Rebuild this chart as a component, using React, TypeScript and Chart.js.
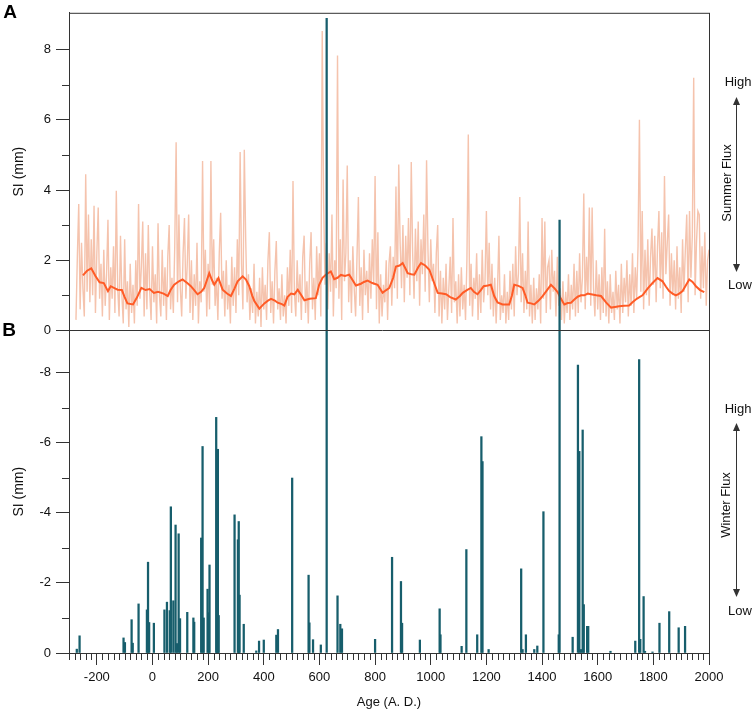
import React, { useEffect, useRef } from 'react';
import { Chart, registerables } from 'chart.js';

Chart.register(...registerables);

const FONT = '"Liberation Sans", Arial, Helvetica, sans-serif';

// Panel A: summer SI (mm), one value every 5 years from 275 BC
const summerStart = -275;
const summerStep = 5;
const summerSI = [
  0.3, 2.1, 3.6, 0.6, 2.5, 1.2, 0.4, 4.45, 1.1, 3.3,
  0.8, 2.6, 1.0, 3.55, 0.5, 2.2, 3.5, 0.9, 1.9, 0.4,
  2.3, 0.7, 1.6, 3.15, 0.3, 1.8, 0.9, 2.4, 0.5, 3.98,
  1.2, 0.4, 2.7, 1.0, 0.2, 2.6, 0.6, 1.4, 0.1, 1.9,
  0.5, 1.3, 0.2, 2.0, 0.7, 3.6, 0.9, 1.8, 3.1, 0.4,
  2.2, 0.6, 3.0, 1.1, 0.3, 2.4, 0.8, 1.6, 0.2, 3.05,
  1.0, 0.4, 2.3, 0.7, 1.8, 0.3, 2.1, 3.0, 0.6, 1.5,
  0.5, 2.4, 5.36, 0.8, 3.3, 1.2, 0.4, 2.2, 3.2, 0.9,
  1.9, 3.3, 0.5, 2.0, 0.3, 1.6, 0.7, 2.5, 0.2, 1.4,
  0.8, 4.83, 1.1, 2.3, 0.4, 1.9, 0.6, 4.83, 1.3, 2.6,
  0.7, 1.5, 0.3, 2.2, 3.35, 0.9, 1.7, 0.4, 2.0, 0.6,
  1.3, 0.2, 2.1, 0.7, 1.8, 0.5, 2.6, 1.0, 5.08, 1.9,
  0.6, 5.15, 2.6, 0.8, 1.6, 0.3, 1.2, 0.5, 1.9, 0.2,
  1.1, 0.4, 1.5, 0.1, 1.8, 0.6, 1.3, 0.3, 2.0, 2.8,
  0.5, 1.4, 0.2, 1.7, 2.55, 0.6, 1.2, 0.3, 1.6, 0.4,
  1.0, 0.2, 1.8, 0.7, 2.3, 0.5, 4.26, 1.1, 0.4, 2.0,
  0.8, 1.6, 0.3, 2.1, 2.7, 0.5, 1.4, 0.2, 1.9, 2.8,
  0.6, 1.5, 0.3, 2.4, 1.0, 2.2, 0.4, 8.53, 3.7, 1.3,
  2.5, 0.6, 2.2, 1.1, 3.3, 0.4, 2.0, 1.2, 7.83, 0.9,
  2.6, 0.3, 4.3, 1.4, 2.2, 4.7, 0.8, 2.0, 0.5, 2.4,
  1.2, 0.4, 2.1, 3.8, 0.7, 1.8, 0.3, 2.3, 1.0, 1.7,
  0.5, 2.2, 0.9, 2.6, 1.3, 4.4, 0.6, 2.8, 0.2, 1.6,
  0.4, 1.3, 0.8, 2.0, 0.3, 1.9, 2.4, 0.7, 2.1, 1.2,
  4.1, 0.9, 4.73, 2.5, 1.2, 3.0, 0.8, 2.7, 1.5, 3.2,
  1.0, 4.8, 2.2, 0.9, 2.9, 1.4, 3.1, 0.7, 2.6, 1.6,
  3.3, 1.1, 4.85, 2.3, 0.8, 2.6, 1.4, 1.9, 0.5, 2.2,
  3.0, 0.4, 1.7, 0.2, 1.5, 0.6, 1.9, 0.3, 1.2, 2.1,
  0.5, 3.2, 0.8, 1.4, 0.2, 1.6, 0.4, 1.8, 0.6, 1.3,
  0.3, 2.0, 5.58, 0.7, 1.9, 0.4, 1.5, 0.9, 2.2, 0.3,
  1.6, 0.5, 2.3, 0.8, 1.4, 3.4, 1.0, 2.5, 0.6, 1.9,
  0.4, 1.5, 0.2, 1.2, 2.7, 0.3, 1.0, 0.5, 1.6, 0.2,
  1.1, 0.3, 1.7, 0.6, 1.9, 0.4, 2.4, 1.0, 1.6, 3.8,
  0.8, 2.2, 0.5, 1.7, 0.6, 3.1, 0.4, 1.3, 0.2, 1.5,
  0.3, 1.2, 0.6, 1.6, 0.2, 3.2, 0.9, 3.1, 0.5, 1.8,
  2.0, 0.6, 2.3, 1.1, 1.7, 0.4, 2.1, 0.7, 1.2, 0.3,
  1.4, 0.2, 1.1, 0.5, 1.6, 0.3, 1.3, 0.6, 1.9, 0.4,
  1.7, 0.5, 2.2, 0.8, 1.5, 3.9, 0.6, 2.1, 1.0, 3.5,
  0.7, 3.5, 1.2, 0.4, 2.0, 0.6, 1.6, 0.3, 1.8, 0.5,
  2.9, 0.4, 1.4, 0.2, 1.6, 0.5, 1.1, 0.3, 1.7, 0.6,
  1.3, 0.2, 1.9, 0.5, 1.5, 0.8, 2.0, 0.4, 1.6, 0.7,
  2.2, 0.5, 1.8, 0.9, 2.4, 6.0, 1.1, 3.4, 0.6, 2.3,
  1.0, 2.6, 0.7, 2.1, 2.9, 1.3, 2.7, 0.8, 2.4, 3.4,
  1.2, 2.8, 0.9, 4.4, 1.6, 2.5, 3.3, 0.7, 2.2, 1.0,
  2.0, 0.6, 2.4, 0.9, 1.8, 0.5, 2.6, 1.1, 2.3, 3.3,
  0.8, 3.4, 1.5, 2.7, 7.2, 1.0, 2.5, 3.4, 3.3, 0.9,
  2.4, 1.2, 2.8, 0.7, 2.0, 2.3,
];

// Panel A: smoothed summer SI
const smoothYears = [
  -250, -235, -220, -205, -190, -175, -160, -150, -135, -125, -110, -100, -90, -70, -55, -40, -25, -10,
  5, 20, 40, 55, 65, 78, 95, 108, 125, 138, 150, 162, 175, 186, 204, 213, 222, 237, 252, 268, 282, 295,
  306, 324, 336, 348, 358, 366, 384, 402, 415, 426, 440, 450, 465, 474, 485, 498, 510, 522, 535, 546,
  565, 587, 599, 611, 625, 641, 653, 665, 677, 692, 707, 720, 731, 749, 760, 773, 790, 809, 827, 840,
  851, 865, 875, 888, 899, 910, 917, 930, 941, 955, 965, 980, 995, 1010, 1025, 1040, 1055, 1070, 1090,
  1105, 1115, 1130, 1144, 1155, 1168, 1180, 1190, 1205, 1216, 1228, 1240, 1258, 1282, 1292, 1300, 1315,
  1330, 1340, 1348, 1360, 1372, 1388, 1402, 1418, 1432, 1445, 1456, 1468, 1480, 1492, 1504, 1516, 1528,
  1540, 1552, 1564, 1576, 1595, 1612, 1630, 1648, 1662, 1677, 1695, 1713, 1725, 1737, 1750, 1761, 1780,
  1797, 1815, 1833, 1845, 1857, 1869, 1881, 1893, 1905, 1918, 1929, 1941, 1953, 1968, 1983,
];
const smoothSI = [
  1.57, 1.7, 1.77, 1.55, 1.37, 1.35, 1.12, 1.26, 1.2, 1.16, 1.15, 0.95, 0.77, 0.74, 0.95, 1.21, 1.15, 1.18,
  1.07, 1.1, 1.05, 0.98, 1.15, 1.3, 1.4, 1.45, 1.35, 1.26, 1.15, 1.03, 1.1, 1.21, 1.63, 1.45, 1.3, 1.49, 1.16, 1.05, 0.98, 1.2,
  1.4, 1.54, 1.45, 1.26, 1.0, 0.84, 0.62, 0.77, 0.85, 0.9, 0.85, 0.79, 0.75, 0.71, 0.95, 1.05, 1.03, 1.16, 1.0, 0.86,
  0.9, 0.92, 1.3, 1.5, 1.6, 1.68, 1.46, 1.5, 1.58, 1.55, 1.59, 1.42, 1.28, 1.33, 1.38, 1.42, 1.35, 1.3, 1.07, 1.15,
  1.21, 1.5, 1.82, 1.85, 1.92, 1.75, 1.63, 1.6, 1.59, 1.8, 1.92, 1.85, 1.73, 1.4, 1.07, 1.05, 1.03, 0.95, 0.88,
  0.98, 1.07, 1.15, 1.21, 1.1, 1.03, 1.15, 1.26, 1.28, 1.3, 0.98, 0.8, 0.74, 0.74, 1.0, 1.3, 1.27,
  1.21, 1.0, 0.79, 0.77, 0.74, 0.85, 0.98, 1.15, 1.3, 1.2, 1.09, 0.9, 0.74, 0.78, 0.79, 0.88, 0.96,
  1.0, 1.0, 1.05, 1.03, 1.0, 0.98, 0.8, 0.65, 0.67, 0.69, 0.7, 0.71, 0.8, 0.88, 0.95, 1.0, 1.2,
  1.35, 1.49, 1.4, 1.25, 1.12, 1.05, 1.0, 1.05, 1.12, 1.3, 1.45, 1.38, 1.26, 1.15, 1.09,
];

// Panel B: winter SI (mm), negative downward scale
const winterYears = [
  -272, -262, -104, -99, -75, -71, -50, -20, -16, -12, 5, 43, 52, 62, 66, 75, 83, 88, 94, 99,
  125, 147, 150, 175, 180, 184, 198, 202, 205, 229, 232, 235, 238, 295, 307, 310, 313, 328,
  373, 383, 400, 445, 451, 502, 561, 564, 577, 605, 626, 665, 675, 681, 800, 861, 893, 897,
  961, 1032, 1035, 1111, 1128, 1167, 1182, 1186, 1208, 1325, 1330, 1342, 1372, 1383, 1405,
  1460, 1463, 1510, 1529, 1534, 1540, 1546, 1550, 1562, 1566, 1646, 1735, 1749, 1753, 1765,
  1770, 1797, 1822, 1857, 1891, 1914,
];
const winterSI = [
  -0.11, -0.49, -0.43, -0.3, -0.95, -0.28, -1.4, -1.23, -2.59, -0.87, -0.85, -1.23, -1.45, -1.21, -4.17, -1.49, -3.65, -0.27, -3.4, -0.98,
  -1.16, -1.0, -0.88, -3.28, -5.89, -1.0, -1.82, -1.15, -2.51, -6.72, -4.1, -5.81, -1.07, -3.94, -3.23, -3.75, -1.65, -0.82,
  -0.06, -0.34, -0.37, -0.51, -0.67, -4.99, -2.22, -0.86, -0.38, -0.23, -18.1, -1.63, -0.82, -0.69, -0.39, -2.73, -2.04, -0.85,
  -0.37, -1.26, -0.52, -0.19, -2.95, -0.52, -6.17, -5.46, -0.1, -2.4, -0.1, -0.52, -0.1, -0.2, -4.03,
  -0.52, -12.35, -0.45, -8.21, -5.75, -0.1, -6.36, -1.38, -0.76, -0.76, -0.05, -0.34, -8.37, -0.39, -1.61,
  -0.05, -0.03, -0.85, -1.18, -0.72, -0.76,
];

const frameColor = '#333333';
const textColor = '#111111';

const drawArrow = (ctx, x, yTop, yBottom) => {
  ctx.beginPath();
  ctx.moveTo(x + 0.5, yTop + 6);
  ctx.lineTo(x + 0.5, yBottom - 6);
  ctx.stroke();
  ctx.beginPath();
  ctx.moveTo(x + 0.5, yTop);
  ctx.lineTo(x - 3, yTop + 8);
  ctx.lineTo(x + 4, yTop + 8);
  ctx.closePath();
  ctx.fill();
  ctx.beginPath();
  ctx.moveTo(x + 0.5, yBottom);
  ctx.lineTo(x - 3, yBottom - 8);
  ctx.lineTo(x + 4, yBottom - 8);
  ctx.closePath();
  ctx.fill();
};

const decorPlugin = {
  id: 'decor',
  afterDraw(chart) {
    const { ctx, chartArea, scales } = chart;
    const x = scales.x;
    const yA = scales.yA;
    const yB = scales.yB;
    ctx.save();
    ctx.strokeStyle = frameColor;
    ctx.fillStyle = frameColor;
    ctx.lineWidth = 1;

    // panel frames
    ctx.strokeRect(chartArea.left + 0.5, chartArea.top + 0.5, chartArea.right - chartArea.left, chartArea.bottom - chartArea.top);
    const mid = Math.round(yA.getPixelForValue(0)) + 0.5;
    ctx.beginPath();
    ctx.moveTo(chartArea.left - 13, mid);
    ctx.lineTo(chartArea.right, mid);
    ctx.stroke();

    // minor ticks
    ctx.beginPath();
    for (let v = -300; v <= 2000; v += 20) {
      if (v % 200 === 0) continue;
      const px = Math.round(x.getPixelForValue(v)) + 0.5;
      ctx.moveTo(px, chartArea.bottom);
      ctx.lineTo(px, chartArea.bottom + 7);
    }
    [1, 3, 5, 7].forEach((v) => {
      const py = Math.round(yA.getPixelForValue(v)) + 0.5;
      ctx.moveTo(chartArea.left - 7, py);
      ctx.lineTo(chartArea.left, py);
    });
    [-1, -3, -5, -7].forEach((v) => {
      const py = Math.round(yB.getPixelForValue(v)) + 0.5;
      ctx.moveTo(chartArea.left - 7, py);
      ctx.lineTo(chartArea.left, py);
    });
    ctx.stroke();

    // panel letters
    ctx.fillStyle = '#000';
    ctx.font = 'bold 19px ' + FONT;
    ctx.textAlign = 'center';
    ctx.textBaseline = 'middle';
    ctx.fillText('A', 10, 13);
    ctx.fillText('B', 9, 331);

    // flux annotations
    ctx.font = '13px ' + FONT;
    ctx.fillStyle = textColor;
    ctx.fillText('High', 738, 82);
    ctx.fillText('Low', 740, 285);
    ctx.fillText('High', 738, 409);
    ctx.fillText('Low', 740, 611);
    ctx.fillStyle = frameColor;
    drawArrow(ctx, 736, 97, 272);
    drawArrow(ctx, 736, 423, 597);
    ctx.fillStyle = textColor;
    ctx.save();
    ctx.translate(727, 183);
    ctx.rotate(-Math.PI / 2);
    ctx.fillText('Summer Flux', 0, 0);
    ctx.restore();
    ctx.save();
    ctx.translate(726, 505);
    ctx.rotate(-Math.PI / 2);
    ctx.fillText('Winter Flux', 0, 0);
    ctx.restore();
    ctx.restore();
  },
};

const App = () => {
  const canvasRef = useRef(null);
  const chartRef = useRef(null);

  useEffect(() => {
    const summerData = summerSI.map((v, i) => ({ x: summerStart + i * summerStep, y: v }));
    const smoothData = smoothYears.map((yr, i) => ({ x: yr, y: smoothSI[i] }));
    const winterData = winterYears.map((yr, i) => ({ x: yr, y: winterSI[i] }));

    const yTickColor = (ctx) => (ctx.tick && Number.isInteger(ctx.tick.value) && ctx.tick.value % 2 === 0 ? frameColor : 'rgba(0,0,0,0)');
    const yLabel = (v) => (Number.isInteger(v) && v % 2 === 0 ? String(v) : '');

    chartRef.current = new Chart(canvasRef.current, {
      type: 'bar',
      data: {
        datasets: [
          {
            type: 'bar',
            label: 'Winter SI',
            data: winterData,
            xAxisID: 'x',
            yAxisID: 'yB',
            backgroundColor: '#175e6c',
            barThickness: 1.6,
            grouped: false,
            borderWidth: 0,
            clip: false,
          },
          {
            type: 'line',
            label: 'Summer SI smoothed',
            data: smoothData,
            xAxisID: 'x',
            yAxisID: 'yA',
            borderColor: '#ff5b26',
            borderWidth: 2,
            pointRadius: 0,
            tension: 0,
          },
          {
            type: 'line',
            label: 'Summer SI',
            data: summerData,
            xAxisID: 'x',
            yAxisID: 'yA',
            borderColor: '#f5c3ad',
            borderWidth: 1.4,
            pointRadius: 0,
            tension: 0,
          },
        ],
      },
      options: {
        animation: false,
        responsive: true,
        maintainAspectRatio: false,
        layout: { padding: { left: 0, top: 8, right: 45, bottom: 0 } },
        plugins: { legend: { display: false }, tooltip: { enabled: false } },
        scales: {
          x: {
            type: 'linear',
            position: 'bottom',
            offset: false,
            min: -300,
            max: 2000,
            afterFit: (s) => { s.height = 58; },
            ticks: {
              stepSize: 200,
              includeBounds: false,
              autoSkip: false,
              maxRotation: 0,
              padding: 5,
              color: textColor,
              font: { family: FONT, size: 13 },
              callback: (v) => (v % 200 === 0 ? String(v) : ''),
            },
            grid: {
              offset: false,
              drawOnChartArea: false,
              tickLength: 12,
              tickColor: (ctx) => (ctx.tick && ctx.tick.value % 200 === 0 ? frameColor : 'rgba(0,0,0,0)'),
            },
            border: { color: frameColor },
            title: {
              display: true,
              text: 'Age (A. D.)',
              color: textColor,
              font: { family: FONT, size: 13 },
              padding: { top: 0, bottom: 1 },
            },
          },
          yA: {
            type: 'linear',
            position: 'left',
            stack: 'panels',
            stackWeight: 320,
            weight: 1,
            min: 0,
            max: 9.05,
            afterFit: (s) => { s.width = 69; },
            ticks: {
              stepSize: 1,
              autoSkip: false,
              padding: 5,
              color: textColor,
              font: { family: FONT, size: 13 },
              callback: yLabel,
            },
            grid: { drawOnChartArea: false, tickLength: 13, tickColor: yTickColor },
            border: { color: frameColor },
            title: {
              display: true,
              text: 'SI (mm)',
              color: textColor,
              font: { family: FONT, size: 14 },
              padding: { top: 11, bottom: 0 },
            },
          },
          yB: {
            type: 'linear',
            position: 'left',
            stack: 'panels',
            stackWeight: 325,
            weight: 0,
            reverse: true,
            min: -9.2,
            max: 0,
            afterFit: (s) => { s.width = 69; },
            ticks: {
              stepSize: 1,
              autoSkip: false,
              padding: 5,
              color: textColor,
              font: { family: FONT, size: 13 },
              callback: yLabel,
            },
            grid: { drawOnChartArea: false, tickLength: 13, tickColor: yTickColor },
            border: { color: frameColor },
            title: {
              display: true,
              text: 'SI (mm)',
              color: textColor,
              font: { family: FONT, size: 14 },
              padding: { top: 11, bottom: 0 },
            },
          },
        },
      },
      plugins: [decorPlugin],
    });

    return () => {
      if (chartRef.current) {
        chartRef.current.destroy();
      }
    };
  }, []);

  return (
    <div style={{ position: 'absolute', left: 0, top: 0, width: 754, height: 711, background: '#fff' }}>
      <canvas ref={canvasRef}></canvas>
    </div>
  );
};

export default App;
